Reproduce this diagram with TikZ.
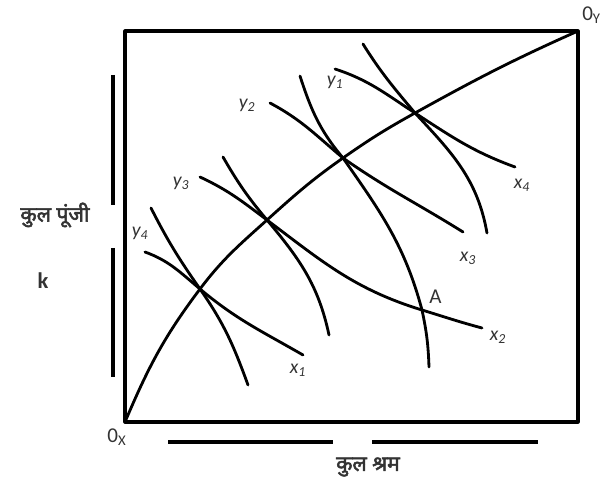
\documentclass[tikz,border=0pt]{standalone}
\usepackage{fontspec}
\setmainfont{Carlito}
\newfontfamily\hindi[Script=Devanagari,FakeBold=2.5]{Noto Sans}
\definecolor{EBLine}{HTML}{000000}
\definecolor{EBText}{HTML}{333333}
\tikzset{
  curve/.style={EBLine,line width=2pt,line cap=round},
  frame/.style={EBLine,line width=2.2pt,line join=round},
  lbl/.style={text=EBText,inner sep=0pt,font=\itshape\fontsize{14}{14}\selectfont},
  hin/.style={text=EBText,inner sep=0pt,font=\hindi\fontsize{15}{15}\selectfont}
}
\newcommand{\idx}[2]{#1\textsubscript{#2}}

\begin{document}
\begin{tikzpicture}[x=0.025cm,y=0.025cm]
\path[use as bounding box] (0,0) rectangle (601,480);
% origins and equilibrium points
\coordinate (ox) at (125,58);
\coordinate (oy) at (578,449);
\coordinate (e1) at (200,191);
\coordinate (e2) at (267,260);
\coordinate (e3) at (343,322);
\coordinate (e4) at (415,367);
\coordinate (a) at (422,170);
\draw[frame] (ox) rectangle (oy);
% contract curve
\draw[curve] (ox) to[out=67,in=233] (e1) to[out=53,in=222] (e2) to[out=42,in=215] (e3)
  to[out=35,in=209] (e4) to[out=29,in=204] (oy);
% X isoquants
\draw[curve] (145,228) to[out=-20,in=140] (e1) to[out=-40,in=150] (303,125);
\draw[curve] (200,303) to[out=-25,in=143] (e2) to[out=-37,in=163] (a) to[out=-17,in=165] (482,152);
\draw[curve] (270,377) to[out=-28,in=140] (e3) to[out=-35,in=148] (463,248);
\draw[curve] (335,411) to[out=-18,in=147] (e4) to[out=-33,in=160] (515,313);
% Y isoquants
\draw[curve] (151,272) to[out=-63,in=125] (e1) to[out=-55,in=110] (248,95);
\draw[curve] (223,323) to[out=-60,in=130] (e2) to[out=-50,in=102] (329,145);
\draw[curve] (300,404) to[out=-72,in=130] (e3) to[out=-55,in=105] (a) to[out=-78,in=92] (429,113);
\draw[curve] (363,436) to[out=-58,in=130] (e4) to[out=-47,in=100] (487,247);
% labels
\node[lbl] (lx1) at (298,110) {\idx{x}{1}};
\node[lbl] (lx2) at (498,143) {\idx{x}{2}};
\node[lbl] (lx3) at (468,222) {\idx{x}{3}};
\node[lbl] (lx4) at (522,295) {\idx{x}{4}};
\node[lbl] (ly1) at (335,398) {\idx{y}{1}};
\node[lbl] (ly2) at (247,375) {\idx{y}{2}};
\node[lbl] (ly3) at (181,297) {\idx{y}{3}};
\node[lbl] (ly4) at (140,247) {\idx{y}{4}};
\node[lbl,font=\fontsize{15}{15}\selectfont,anchor=south west] (la) at (429,176) {A};
\node[lbl,font=\fontsize{15}{15}\selectfont] (lox) at (117,43) {0\textsubscript{X}};
\node[lbl,font=\fontsize{15}{15}\selectfont,anchor=west] (loy) at (582,465) {0\textsubscript{Y}};
% axis captions
\draw[frame] (113,405) -- (113,275);
\draw[frame] (113,232) -- (113,103);
\draw[frame] (168,38) -- (333,38);
\draw[frame] (372,38) -- (538,38);
\node[hin] (kapital) at (55,265) {कुल पूंजी};
\node[hin,font=\bfseries\fontsize{16}{16}\selectfont] (k) at (43,199) {k};
\node[hin] (shram) at (368,13) {कुल श्रम};
\end{tikzpicture}
\end{document}
